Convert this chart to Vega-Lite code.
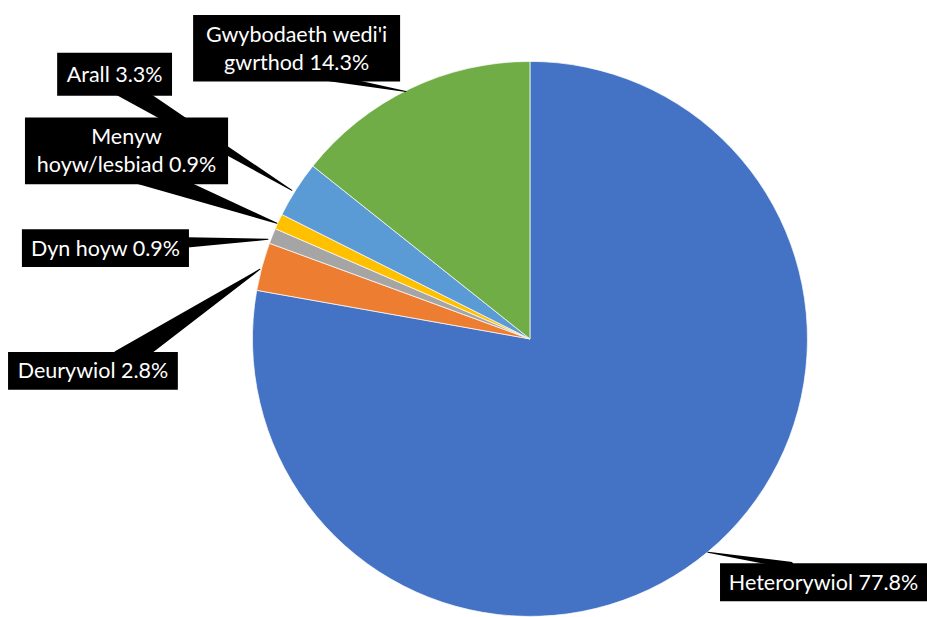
{
  "$schema": "https://vega.github.io/schema/vega-lite/v6.json",
  "width": 927,
  "height": 617,
  "padding": 0,
  "autosize": {"type": "fit", "contains": "padding"},
  "background": "white",
  "config": {"view": {"stroke": null}},
  "datasets": {
    "slices": [
      {"category": "Heterorywiol", "value": 77.8, "order": 1},
      {"category": "Deurywiol", "value": 2.8, "order": 2},
      {"category": "Dyn hoyw", "value": 0.9, "order": 3},
      {"category": "Menyw hoyw/lesbiad", "value": 0.9, "order": 4},
      {"category": "Arall", "value": 3.3, "order": 5},
      {"category": "Gwybodaeth wedi'i gwrthod", "value": 14.3, "order": 6}
    ],
    "boxes": [
      {"category": "Gwybodaeth wedi'i gwrthod", "label": "Gwybodaeth wedi'i\ngwrthod 14.3%", "left": -121.4, "right": -46.8, "top": 117.1, "bottom": 93.0},
      {"category": "Arall", "label": "Arall 3.3%", "left": -170.4, "right": -129.0, "top": 103.4, "bottom": 87.9},
      {"category": "Menyw hoyw/lesbiad", "label": "Menyw\nhoyw/lesbiad 0.9%", "left": -182.0, "right": -108.8, "top": 80.0, "bottom": 55.9},
      {"category": "Dyn hoyw", "label": "Dyn hoyw 0.9%", "left": -183.1, "right": -122.9, "top": 39.6, "bottom": 26.0},
      {"category": "Deurywiol", "label": "Deurywiol 2.8%", "left": -188.1, "right": -126.9, "top": -4.7, "bottom": -18.4},
      {"category": "Heterorywiol", "label": "Heterorywiol 77.8%", "left": 68.5, "right": 143.1, "top": -81.1, "bottom": -94.8}
    ],
    "wedges": [
      {"category": "Deurywiol", "end": 0, "u": -147.0, "v": -8.0},
      {"category": "Deurywiol", "end": 1, "u": -97.3, "v": 25.2},
      {"category": "Dyn hoyw", "end": 0, "u": -167.2, "v": 33.2},
      {"category": "Dyn hoyw", "end": 1, "u": -94.4, "v": 36.0},
      {"category": "Menyw hoyw/lesbiad", "end": 0, "u": -140.5, "v": 60.2},
      {"category": "Menyw hoyw/lesbiad", "end": 1, "u": -91.2, "v": 41.8},
      {"category": "Arall", "end": 0, "u": -159.3, "v": 98.7},
      {"category": "Arall", "end": 1, "u": -85.8, "v": 53.7},
      {"category": "Gwybodaeth wedi'i gwrthod", "end": 0, "u": -72.1, "v": 94.4},
      {"category": "Gwybodaeth wedi'i gwrthod", "end": 1, "u": -44.7, "v": 89.4},
      {"category": "Heterorywiol", "end": 0, "u": 93.7, "v": -81.8},
      {"category": "Heterorywiol", "end": 1, "u": 64.1, "v": -77.1}
    ]
  },
  "resolve": {"scale": {"size": "independent"}},
  "layer": [
    {
      "data": {"name": "slices"},
      "mark": {"type": "arc", "outerRadius": 277.5, "stroke": "white", "strokeWidth": 0.7},
      "encoding": {
        "theta": {"field": "value", "type": "quantitative", "stack": true},
        "order": {"field": "order", "type": "quantitative"},
        "color": {
          "field": "category",
          "type": "nominal",
          "scale": {
            "domain": ["Heterorywiol", "Deurywiol", "Dyn hoyw", "Menyw hoyw/lesbiad", "Arall", "Gwybodaeth wedi'i gwrthod"],
            "range": ["#4472C4", "#ED7D31", "#A5A5A5", "#FFC000", "#5B9BD5", "#70AD47"]
          },
          "legend": null
        },
        "x": {"datum": 0, "type": "quantitative", "scale": {"domain": [-191.0, 143.1], "nice": false, "zero": false}, "axis": null},
        "y": {"datum": 0, "type": "quantitative", "scale": {"domain": [-99.8, 122.5], "nice": false, "zero": false}, "axis": null}
      }
    },
    {
      "data": {"name": "wedges"},
      "transform": [{"filter": "datum.category !== 'Heterorywiol' && datum.category !== \"Gwybodaeth wedi'i gwrthod\""}],
      "mark": {"type": "trail", "color": "black"},
      "encoding": {
        "x": {"field": "u", "type": "quantitative", "scale": {"domain": [-191.0, 143.1], "nice": false, "zero": false}, "axis": null},
        "y": {"field": "v", "type": "quantitative", "scale": {"domain": [-99.8, 122.5], "nice": false, "zero": false}, "axis": null},
        "detail": {"field": "category", "type": "nominal"},
        "order": {"field": "end", "type": "quantitative"},
        "size": {"field": "end", "type": "quantitative", "scale": {"domain": [0, 1], "range": [24, 1]}, "legend": null}
      }
    },
    {
      "data": {"name": "wedges"},
      "transform": [{"filter": "datum.category === 'Heterorywiol' || datum.category === \"Gwybodaeth wedi'i gwrthod\""}],
      "mark": {"type": "trail", "color": "black"},
      "encoding": {
        "x": {"field": "u", "type": "quantitative", "scale": {"domain": [-191.0, 143.1], "nice": false, "zero": false}, "axis": null},
        "y": {"field": "v", "type": "quantitative", "scale": {"domain": [-99.8, 122.5], "nice": false, "zero": false}, "axis": null},
        "detail": {"field": "category", "type": "nominal"},
        "order": {"field": "end", "type": "quantitative"},
        "size": {"field": "end", "type": "quantitative", "scale": {"domain": [0, 1], "range": [7, 1]}, "legend": null}
      }
    },
    {
      "data": {"name": "boxes"},
      "mark": {"type": "rect", "color": "black"},
      "encoding": {
        "x": {"field": "left", "type": "quantitative", "scale": {"domain": [-191.0, 143.1], "nice": false, "zero": false}, "axis": null},
        "x2": {"field": "right"},
        "y": {"field": "bottom", "type": "quantitative", "scale": {"domain": [-99.8, 122.5], "nice": false, "zero": false}, "axis": null},
        "y2": {"field": "top"}
      }
    },
    {
      "data": {"name": "boxes"},
      "transform": [
        {"filter": "indexof(datum.label, '\\n') < 0"},
        {"calculate": "(datum.left + datum.right) / 2", "as": "cx"},
        {"calculate": "(datum.top + datum.bottom) / 2", "as": "cy"}
      ],
      "mark": {"type": "text", "color": "white", "font": "Lato", "fontSize": 21.5, "align": "center", "baseline": "middle", "dy": 1.5},
      "encoding": {
        "x": {"field": "cx", "type": "quantitative", "scale": {"domain": [-191.0, 143.1], "nice": false, "zero": false}, "axis": null},
        "y": {"field": "cy", "type": "quantitative", "scale": {"domain": [-99.8, 122.5], "nice": false, "zero": false}, "axis": null},
        "text": {"field": "label"}
      }
    },
    {
      "data": {"name": "boxes"},
      "transform": [
        {"filter": "indexof(datum.label, '\\n') >= 0"},
        {"calculate": "(datum.left + datum.right) / 2", "as": "cx"},
        {"calculate": "(datum.top + datum.bottom) / 2", "as": "cy"}
      ],
      "mark": {"type": "text", "color": "white", "font": "Lato", "fontSize": 21.5, "lineBreak": "\n", "lineHeight": 28, "align": "center", "baseline": "middle", "dy": -12.5},
      "encoding": {
        "x": {"field": "cx", "type": "quantitative", "scale": {"domain": [-191.0, 143.1], "nice": false, "zero": false}, "axis": null},
        "y": {"field": "cy", "type": "quantitative", "scale": {"domain": [-99.8, 122.5], "nice": false, "zero": false}, "axis": null},
        "text": {"field": "label"}
      }
    }
  ]
}
